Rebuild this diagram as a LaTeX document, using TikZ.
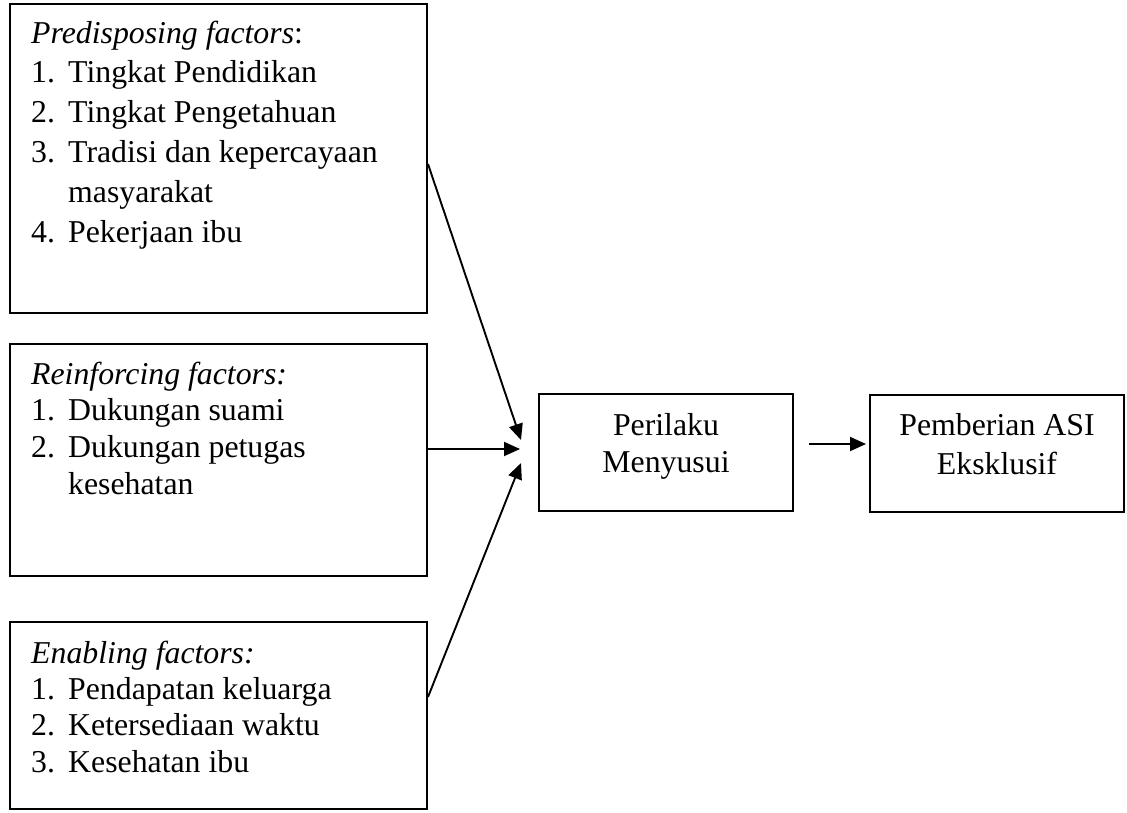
\documentclass[tikz,border=0pt]{standalone}
\usepackage{fontspec}
\setmainfont{Liberation Serif}
\usetikzlibrary{arrows.meta,fit}
\begin{document}
\begin{tikzpicture}[x=1pt,y=-1pt,
  box/.style={draw, line width=2pt, inner sep=0pt},
  arr/.style={-{Triangle[length=16pt,width=14pt]}, line width=1.9pt},
  txt/.style={inner sep=0pt, anchor=base west}
]
\useasboundingbox (0,0) rectangle (1127,812);
% boxes
\node[box, fit={(10,4) (427,313)}] (pre) {};
\node[box, fit={(10,344) (427,576)}] (rei) {};
\node[box, fit={(10,622) (427,809)}] (ena) {};
\node[box, fit={(539,394) (793,511)}] (per) {};
\node[box, fit={(870,395) (1124,512)}] (pem) {};
% texts
\node[txt] (tpre) at (31,43) {\parbox[t]{390pt}{\fontsize{31.8}{39.8}\selectfont
\textit{Predisposing factors}:\\
\makebox[37pt][l]{1.}Tingkat Pendidikan\\
\makebox[37pt][l]{2.}Tingkat Pengetahuan\\
\makebox[37pt][l]{3.}Tradisi dan kepercayaan\\
\hspace*{37pt}masyarakat\\
\makebox[37pt][l]{4.}Pekerjaan ibu}};
\node[txt] (trei) at (31,384) {\parbox[t]{390pt}{\fontsize{31.8}{36.7}\selectfont
\textit{Reinforcing factors:}\\
\makebox[37pt][l]{1.}Dukungan suami\\
\makebox[37pt][l]{2.}Dukungan petugas\\
\hspace*{37pt}kesehatan}};
\node[txt] (tena) at (31,663) {\parbox[t]{390pt}{\fontsize{31.8}{36.4}\selectfont
\textit{Enabling factors:}\\
\makebox[37pt][l]{1.}Pendapatan keluarga\\
\makebox[37pt][l]{2.}Ketersediaan waktu\\
\makebox[37pt][l]{3.}Kesehatan ibu}};
\node[inner sep=0pt, anchor=base] (tper) at (666,435) {\fontsize{31.8}{37}\selectfont\begin{tabular}[t]{@{}c@{}}Perilaku\\Menyusui\end{tabular}};
\node[inner sep=0pt, anchor=base] (tpem) at (997,435) {\fontsize{31.8}{39}\selectfont\begin{tabular}[t]{@{}c@{}}Pemberian ASI\\Eksklusif\end{tabular}};
% connectors
\draw[arr] ([yshift=-5.5pt]pre.east) -- ([xshift=-17pt,yshift=12.5pt]per.west);
\draw[arr] ([yshift=11pt]rei.east) -- ([xshift=-18pt,yshift=3.5pt]per.west);
\draw[arr] ([yshift=18.5pt]ena.east) -- ([xshift=-17pt,yshift=-10.5pt]per.west);
\draw[arr] ([xshift=15pt,yshift=8.5pt]per.east) -- ([xshift=-3pt,yshift=9.5pt]pem.west);
\end{tikzpicture}
\end{document}
